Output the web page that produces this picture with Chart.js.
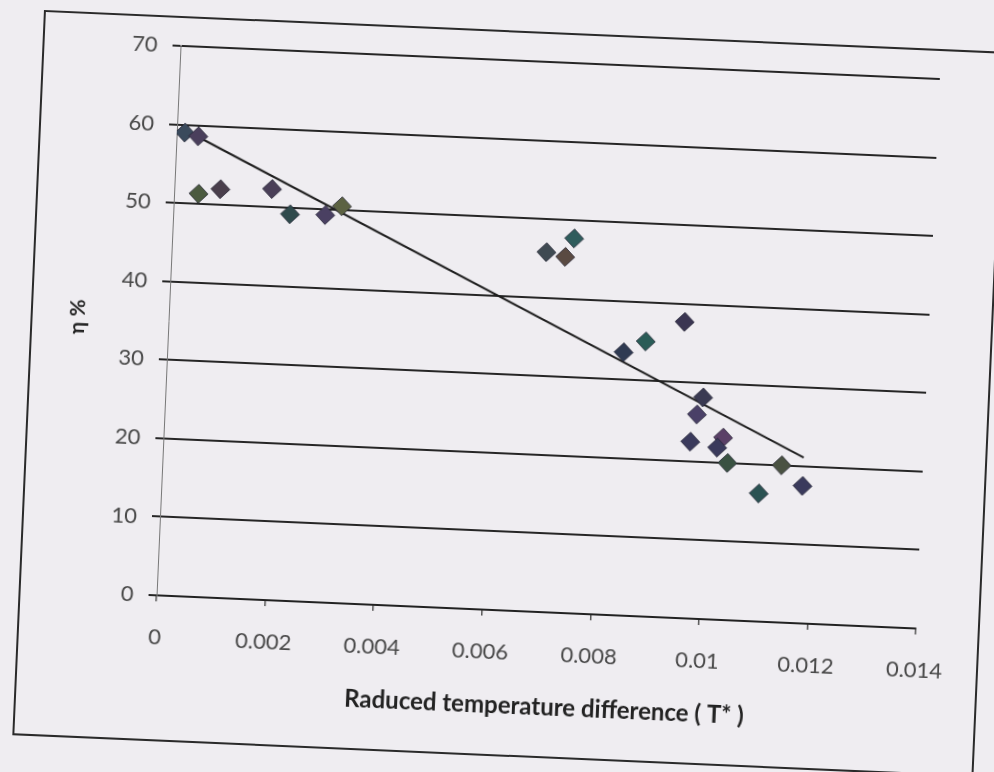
<!DOCTYPE html>
<html>
<head>
<meta charset="utf-8">
<script src="https://cdn.jsdelivr.net/npm/chart.js@4"></script>
<style>
  html, body { margin: 0; padding: 0; background: #efedf1; overflow: hidden; }
  #page { position: absolute; left: 0; top: 0; width: 994px; height: 772px; transform: rotate(2.5deg); transform-origin: 497px 386px; }
  #frame { position: absolute; left: 28px; top: 30px; width: 958px; height: 722px; border: 2px solid #2a2a2a; }
  #wrap { position: absolute; left: 0; top: 0; width: 994px; height: 772px; }
</style>
</head>
<body>
<div id="page">
  <div id="frame"></div>
  <div id="wrap"><canvas id="diagram" width="994" height="772"></canvas></div>
</div>
<script>
// measured points (reduced temperature difference vs efficiency)
const tempDiff = [0.00015, 0.0004, 0.00045, 0.00085, 0.0018, 0.00215, 0.0028, 0.0031,
    0.0069, 0.00725, 0.0074, 0.0084, 0.0088, 0.0095, 0.0099, 0.0098, 0.0097,
    0.0103, 0.0102, 0.0104, 0.0114, 0.011, 0.0118];
const efficiency = [59, 58.6, 51.3, 52, 52.3, 49.2, 49.3, 50.5,
    45.8, 45.3, 47.7, 33.5, 35, 37.7, 28.2, 26, 22.5,
    23.2, 21.9, 20, 20, 16.3, 17.5];
const pointColors = ["#3a4a5c", "#4a3f5c", "#4b5a3f", "#4a3f4c", "#4a3f58", "#2f4a4c", "#4a4062", "#5c6242",
    "#3f4a52", "#5a4a42", "#2f5c5c", "#2f3a52", "#2a5c57", "#3a3552", "#3a3a52", "#4a4067", "#3a3a5c",
    "#5a4067", "#3a3a5c", "#3a5242", "#4a5242", "#2a5252", "#3a3a5c"];

// linear trend line end points
const trendX = [0.0001, 0.0118];
const trendY = [59.5, 21.1];

const xTickLabels = ["0", "0.002", "0.004", "0.006", "0.008", "0.01", "0.012", "0.014"];
const yTickLabels = ["0", "10", "20", "30", "40", "50", "60", "70"];

const ctx = document.getElementById("diagram");

new Chart(ctx, {
    type: "scatter",
    data: {
        datasets: [
            {
                label: "Measured",
                data: tempDiff.map((t, i) => ({ x: t, y: efficiency[i] })),
                pointStyle: "rectRot",
                pointRadius: 9.5,
                backgroundColor: pointColors,
                borderColor: "rgba(30,30,45,0.7)",
                borderWidth: 1,
                order: 1,
            },
            {
                label: "Trend",
                data: trendX.map((t, i) => ({ x: t, y: trendY[i] })),
                showLine: true,
                borderColor: "#1e1e1e",
                borderWidth: 2,
                pointRadius: 0,
                order: 2,
            },
        ],
    },
    options: {
        responsive: false,
        animation: false,
        layout: { padding: { left: 63, right: 68, top: 60, bottom: 52 } },
        plugins: {
            legend: { display: false },
            tooltip: { enabled: false },
        },
        scales: {
            x: {
                type: "linear",
                min: 0,
                max: 0.014,
                afterFit: (scale) => { scale.height = 110; },
                ticks: {
                    stepSize: 0.002,
                    padding: 23,
                    color: "#484848",
                    font: { family: "Lato", size: 22 },
                    callback: (v, i) => xTickLabels[i],
                },
                grid: {
                    drawOnChartArea: false,
                    drawTicks: true,
                    tickLength: 6,
                    color: "#555",
                    lineWidth: 1.5,
                },
                border: { color: "#222", width: 2 },
                title: {
                    display: true,
                    text: "\u2002\u2002Raduced temperature difference ( T* )",
                    color: "#222",
                    font: { family: "Lato", size: 24, weight: "bold" },
                    padding: 0,
                },
            },
            y: {
                min: 0,
                max: 70,
                afterFit: (scale) => { scale.width = 103; },
                ticks: {
                    stepSize: 10,
                    padding: 15,
                    color: "#484848",
                    font: { family: "Lato", size: 22 },
                    callback: (v, i) => yTickLabels[i],
                },
                grid: {
                    color: "#262626",
                    lineWidth: 2,
                    tickLength: 8,
                },
                border: { color: "#777", width: 1 },
                title: {
                    display: true,
                    text: "η %",
                    color: "#222",
                    font: { family: "Lato", size: 21, weight: "bold" },
                    padding: 0,
                },
            },
        },
    },
});
</script>
</body>
</html>
